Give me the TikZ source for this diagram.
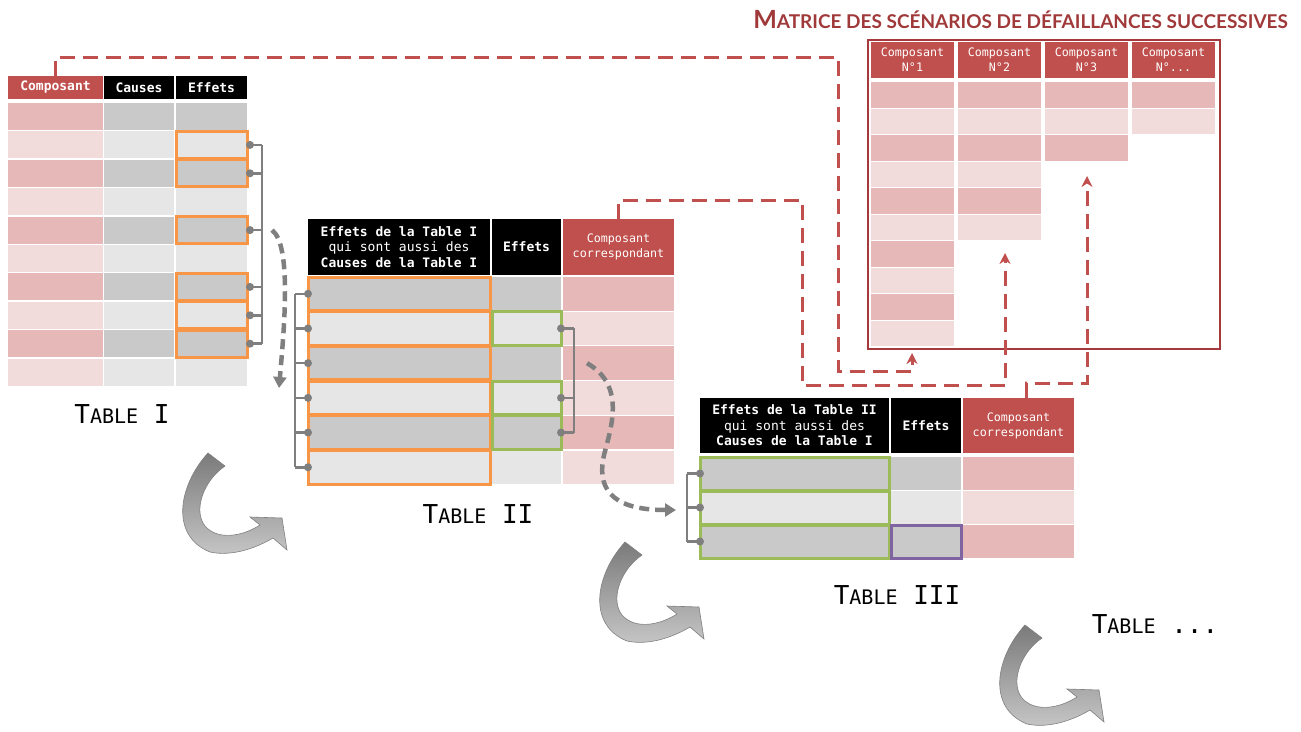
\documentclass[tikz,border=0pt]{standalone}
\usepackage{fontspec}
\setmonofont{DejaVu Sans Mono}
\newfontfamily\titlefont{Lato}
\usetikzlibrary{arrows.meta,positioning}
\definecolor{hdrRed}{HTML}{C0504D}
\definecolor{pinkD}{HTML}{E6B9B8}
\definecolor{pinkL}{HTML}{F2DCDB}
\definecolor{greyD}{HTML}{C9C9C9}
\definecolor{greyL}{HTML}{E6E6E6}
\definecolor{linkGrey}{HTML}{7F7F7F}
\definecolor{mOrange}{HTML}{F79646}
\definecolor{mGreen}{HTML}{9BBB59}
\definecolor{mPurple}{HTML}{8064A2}
\definecolor{frameRed}{HTML}{A5393B}
\definecolor{titleRed}{HTML}{A0393A}
\newcommand{\tabcap}[1]{{\fontsize{26}{26}\selectfont T}{\fontsize{20}{20}\selectfont ABLE}{\fontsize{26}{26}\selectfont\ #1}}
\newcommand{\tridot}{...}
\tikzset{
  turnarrow/.pic={
    \draw[draw=black!50, line width=0.6pt, top color=black!52, bottom color=black!22]
      (0,0) .. controls (-30,33) and (-38,83) .. (2,99)
      .. controls (25,104) and (50,94) .. (65,85) -- (79,97) -- (74,65) -- (42,64) -- (52,72)
      .. controls (35,83) and (10,88) .. (-3,73)
      .. controls (-15,58) and (-5,28) .. (17,13) -- cycle;
  }
}
\begin{document}
\begin{tikzpicture}[x=1pt, y=-1pt,
  cell/.style={inner sep=0pt, outer sep=0pt, anchor=north west},
  hdr/.style={cell, fill=black, text=white, align=center, font=\ttfamily\bfseries\fontsize{13}{15.5}\selectfont},
  rhdr/.style={cell, fill=hdrRed, text=white, align=center, font=\ttfamily\fontsize{11.7}{15}\selectfont},
  obox/.style={draw=mOrange, line width=3pt},
  gbox/.style={draw=mGreen, line width=3pt},
  pbox/.style={draw=mPurple, line width=3pt},
  brk/.style={draw=linkGrey, line width=2.5pt},
  dot/.style={fill=linkGrey},
  flow/.style={linkGrey, line width=4.5pt, dash pattern=on 10pt off 6pt, -{Triangle[length=11pt,width=13pt]}},
  back/.style={hdrRed, line width=3pt, dash pattern=on 15pt off 8pt, -{Stealth[length=11pt,width=11pt]}},
  capt/.style={font=\ttfamily, inner sep=0pt, anchor=base}]
\useasboundingbox (0,0) rectangle (1301,731);

% title
\node[anchor=base east, inner sep=0pt, text=titleRed, font=\titlefont\bfseries] (title) at (1288,28)
  {{\fontsize{25}{25}\selectfont M}{\fontsize{19}{19}\selectfont ATRICE DES SCÉNARIOS DE DÉFAILLANCES SUCCESSIVES}};

% Table I
\node[hdr, fill=hdrRed, minimum width=95, minimum height=23] (t1h1) at (8,76) {Composant};
\node[hdr, minimum width=70, minimum height=23, right=1pt of t1h1] (t1h2) {Causes};
\node[hdr, minimum width=71, minimum height=23, right=2pt of t1h2] (t1h3) {Effets};
\foreach \r in {1,...,10}{
  \pgfmathtruncatemacro{\odd}{mod(\r,2)}
  \ifnum\odd=1 \colorlet{pk}{pinkD}\colorlet{gy}{greyD}\else\colorlet{pk}{pinkL}\colorlet{gy}{greyL}\fi
  \node[cell, fill=pk, minimum width=95, minimum height=27] (t1-\r-1) at (8,{74.6+28.4*\r}) {};
  \node[cell, fill=gy, minimum width=70, minimum height=27] (t1-\r-2) at (104,{74.6+28.4*\r}) {};
  \node[cell, fill=gy, minimum width=71, minimum height=27] (t1-\r-3) at (176,{74.6+28.4*\r}) {};
}
\foreach \r in {2,3,5,7,8,9}{
  \draw[obox] (t1-\r-3.north west) rectangle (t1-\r-3.south east);
  \draw[brk] ([xshift=3pt]t1-\r-3.east) -- ++(12,0);
  \fill[dot] ([xshift=3pt]t1-\r-3.east) circle[radius=4pt];
}
\draw[brk] ([xshift=15pt]t1-2-3.east) -- ([xshift=15pt]t1-9-3.east);
\node[capt] (c1) at (122,423) {\tabcap{I}};

% Table II
\node[hdr, minimum width=182, minimum height=56] (t2h1) at (308,219)
  {Effets de la Table I\\{\mdseries qui sont aussi des}\\Causes de la Table I};
\node[hdr, minimum width=69, minimum height=56] (t2h2) at (492,219) {Effets};
\node[rhdr, minimum width=111, minimum height=56] (t2h3) at (563,219) {Composant\\correspondant};
\foreach \r in {1,...,6}{
  \pgfmathtruncatemacro{\odd}{mod(\r,2)}
  \ifnum\odd=1 \colorlet{pk}{pinkD}\colorlet{gy}{greyD}\else\colorlet{pk}{pinkL}\colorlet{gy}{greyL}\fi
  \node[cell, fill=gy, minimum width=182, minimum height=33.5] (t2-\r-1) at (308,{242.3+34.7*\r}) {};
  \node[cell, fill=gy, minimum width=69, minimum height=33.5] (t2-\r-2) at (492,{242.3+34.7*\r}) {};
  \node[cell, fill=pk, minimum width=111, minimum height=33.5] (t2-\r-3) at (563,{242.3+34.7*\r}) {};
}
\foreach \r in {1,...,6}{
  \draw[obox] (t2-\r-1.north west) rectangle (t2-\r-1.south east);
  \draw[brk] (t2-\r-1.west) -- ++(-13,0);
  \fill[dot] (t2-\r-1.west) circle[radius=4pt];
}
\draw[brk] ([xshift=-13pt]t2-1-1.west) -- ([xshift=-13pt]t2-6-1.west);
\foreach \r in {2,4,5}{
  \draw[gbox] (t2-\r-2.north west) rectangle (t2-\r-2.south east);
  \draw[brk] (t2-\r-2.east) -- ++(13,0);
  \fill[dot] (t2-\r-2.east) circle[radius=4pt];
}
\draw[brk] ([xshift=13pt]t2-2-2.east) -- ([xshift=13pt]t2-5-2.east);
\node[capt] (c2) at (478,523) {\tabcap{II}};

% Table III
\node[hdr, minimum width=189, minimum height=55] (t3h1) at (700,398)
  {Effets de la Table II\\{\mdseries qui sont aussi des}\\Causes de la Table I};
\node[hdr, minimum width=70, minimum height=55] (t3h2) at (891,398) {Effets};
\node[rhdr, minimum width=111, minimum height=55] (t3h3) at (963,398) {Composant\\correspondant};
\foreach \r in {1,...,3}{
  \pgfmathtruncatemacro{\odd}{mod(\r,2)}
  \ifnum\odd=1 \colorlet{pk}{pinkD}\colorlet{gy}{greyD}\else\colorlet{pk}{pinkL}\colorlet{gy}{greyL}\fi
  \node[cell, fill=gy, minimum width=189, minimum height=33] (t3-\r-1) at (700,{423+34*\r}) {};
  \node[cell, fill=gy, minimum width=70, minimum height=33] (t3-\r-2) at (891,{423+34*\r}) {};
  \node[cell, fill=pk, minimum width=111, minimum height=33] (t3-\r-3) at (963,{423+34*\r}) {};
}
\foreach \r in {1,...,3}{
  \draw[gbox] (t3-\r-1.north west) rectangle (t3-\r-1.south east);
  \draw[brk] (t3-\r-1.west) -- ++(-13,0);
  \fill[dot] (t3-\r-1.west) circle[radius=4pt];
}
\draw[brk] ([xshift=-13pt]t3-1-1.west) -- ([xshift=-13pt]t3-3-1.west);
\draw[pbox] (t3-3-2.north west) rectangle (t3-3-2.south east);
\node[capt] (c3) at (897,604) {\tabcap{III}};
\node[capt] (c4) at (1155,633) {\tabcap{\tridot}};

% matrix of successive failure scenarios
\foreach \k/\lab in {1/1,2/2,3/3,4/\tridot}
  \node[rhdr, minimum width=83, minimum height=36] (mh\k) at ({784+87*\k},42) {Composant\\N°\lab};
\foreach \k/\n in {1/10,2/6,3/3,4/2}{
  \foreach \r in {1,...,\n}{
    \pgfmathtruncatemacro{\odd}{mod(\r,2)}
    \ifnum\odd=1 \colorlet{pk}{pinkD}\else\colorlet{pk}{pinkL}\fi
    \node[cell, fill=pk, minimum width=83, minimum height=25.5] (mx-\k-\r) at ({784+87*\k},{55.5+26.5*\r}) {};
  }
}
\node[cell, draw=frameRed, line width=2.5pt, minimum width=352, minimum height=309] (mtx) at (868,40) {};

% links back to the matrix
\coordinate (m1) at (912,353);
\coordinate (m2) at (1005,253);
\coordinate (m3) at (1087,176);
\draw[back] (t1h1.north) |- (838,57) |- (912,371) -- (m1);
\draw[back] (t2h3.north) |- (802,200) |- (1005,385) -- (m2);
\draw[back] ([xshift=8pt]t3h3.north) |- (1087,383) -- (m3);

% flow from table to table
\coordinate (a0) at ([xshift=25pt]t1-5-3.east);
\coordinate (a1) at (279,388);
\draw[flow] (a0) .. controls (292,245) and (284,330) .. (a1);
\coordinate (b0) at ([xshift=26pt]t2-3-2.east);
\coordinate (b1) at (676,510);
\draw[flow] (b0) .. controls (625,385) and (612,425) .. (604,455) .. controls (595,495) and (620,510) .. (b1);

% turning arrows
\pic at (208,453) {turnarrow};
\pic at (625,542) {turnarrow};
\pic at (1025,625) {turnarrow};
\end{tikzpicture}
\end{document}
